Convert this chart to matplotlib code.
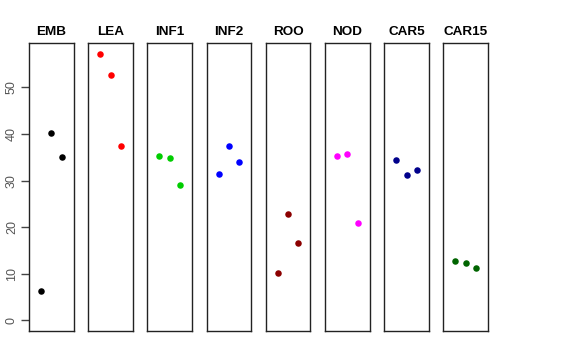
import matplotlib.pyplot as plt

plt.rcParams['font.family'] = ['Liberation Sans', 'DejaVu Sans']

# one panel per tissue, three replicate values each
tissues = ['EMB', 'LEA', 'INF1', 'INF2', 'ROO', 'NOD', 'CAR5', 'CAR15']
values = {
    'EMB':   [6.3, 40.3, 35.0],
    'LEA':   [57.2, 52.6, 37.4],
    'INF1':  [35.2, 34.9, 29.1],
    'INF2':  [31.5, 37.4, 33.9],
    'ROO':   [10.1, 22.9, 16.7],
    'NOD':   [35.2, 35.7, 20.9],
    'CAR5':  [34.4, 31.2, 32.3],
    'CAR15': [12.7, 12.3, 11.2],
}
colors = ['black', 'red', '#00CD00', 'blue', '#8B0000', 'magenta', '#00008B', '#006400']
reps = [1, 2, 3]
ymax = max(max(v) for v in values.values())

fig = plt.figure(figsize=(5.76, 3.6), dpi=100)
W, H = 576, 360
left0, pitch, pw = 29, 59.2, 44.6
top, bottom = 43.3, 331

for i, name in enumerate(tissues):
    x0 = left0 + i * pitch
    ax = fig.add_axes([x0 / W, 1 - bottom / H, pw / W, (bottom - top) / H])
    ax.scatter(reps, values[name], s=22, color=colors[i], zorder=3, linewidths=0)
    ax.set_xlim(-0.16, 4.16)
    pad = 0.04 * ymax
    ax.set_ylim(-pad, ymax + pad)
    ax.set_xticks([])
    for s in ax.spines.values():
        s.set_color('#222222')
        s.set_linewidth(1.0)
    ax.set_title(name, fontsize=9.7, fontweight='bold', pad=6)
    if i == 0:
        ax.set_yticks([0, 10, 20, 30, 40, 50])
        ax.tick_params(axis='y', length=6, width=1, color='#444444',
                       labelcolor='#555555', labelsize=9, pad=2)
        for lab in ax.get_yticklabels():
            lab.set_rotation(90)
            lab.set_va('center')
    else:
        ax.set_yticks([])

fig.savefig('out.png', dpi=100)
